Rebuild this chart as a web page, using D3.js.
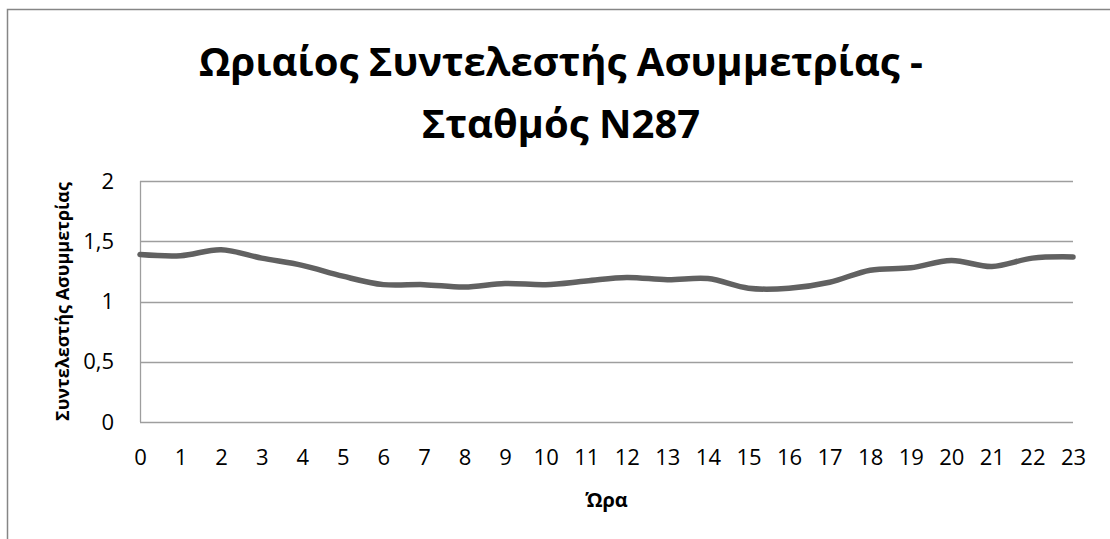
<!DOCTYPE html>
<html>
<head>
<meta charset="utf-8">
<script src="https://cdn.jsdelivr.net/npm/d3@7"></script>
<style>
  body { margin: 0; background: #fff; }
  svg text { font-family: "Open Sans", "Noto Sans", sans-serif; fill: #000; }
</style>
</head>
<body>
<div id="chart"></div>
<script>
// ώρες και τιμές συντελεστή ασυμμετρίας
var hours = d3.range(0, 24);
var skewValues = [1.39, 1.38, 1.43, 1.36, 1.30, 1.21, 1.14, 1.14, 1.12, 1.15, 1.14, 1.17,
                  1.20, 1.18, 1.19, 1.11, 1.11, 1.16, 1.26, 1.28, 1.34, 1.29, 1.36, 1.37];
var yTicks = [0, 0.5, 1, 1.5, 2];
var titleLines = ["Ωριαίος Συντελεστής Ασυμμετρίας -", "Σταθμός N287"];
var xTitle = "Ώρα";
var yTitle = "Συντελεστής Ασυμμετρίας";

var W = 1110, H = 539;
var margin = { top: 181, right: 37, bottom: 117, left: 140 },
    width = W - margin.left - margin.right,
    height = H - margin.top - margin.bottom;

var svg = d3.select("#chart").append("svg")
    .attr("width", W)
    .attr("height", H);

// chart border (only left and top visible)
svg.append("path")
    .attr("d", "M7.5," + H + "V9.5H" + W)
    .attr("fill", "none")
    .attr("stroke", "#868686")
    .attr("stroke-width", 1.5);

var g = svg.append("g")
    .attr("transform", "translate(" + margin.left + "," + margin.top + ")");

var x = d3.scalePoint()
    .domain(hours)
    .range([0, width]);
var y = d3.scaleLinear()
    .domain([0, 2])
    .range([height, 0]);

//----------gridlines----------
g.selectAll("line.grid").data(yTicks).enter().append("line")
    .attr("class", "grid")
    .attr("x1", 0).attr("x2", width)
    .attr("y1", function (d) { return Math.round(y(d)) + 0.5; })
    .attr("y2", function (d) { return Math.round(y(d)) + 0.5; })
    .attr("stroke", "#9e9e9e")
    .attr("stroke-width", 1.3);

g.append("line")
    .attr("x1", 0.5).attr("x2", 0.5)
    .attr("y1", 0).attr("y2", height)
    .attr("stroke", "#9e9e9e")
    .attr("stroke-width", 1.3);

//----------axes----------
var yAxis = d3.axisLeft(y)
    .tickValues(yTicks)
    .tickSize(0)
    .tickPadding(26)
    .tickFormat(function (d) { return String(d).replace(".", ","); });
g.append("g").attr("class", "y axis").call(yAxis)
    .call(function (s) { s.select(".domain").remove(); })
    .selectAll("text")
    .style("font-size", "22px");

var xAxis = d3.axisBottom(x)
    .tickSize(0)
    .tickPadding(27);
g.append("g").attr("class", "x axis")
    .attr("transform", "translate(0," + height + ")")
    .call(xAxis)
    .call(function (s) { s.select(".domain").remove(); })
    .selectAll("text")
    .style("font-size", "22px");

//----------line----------
var line = d3.line()
    .x(function (d, i) { return x(hours[i]); })
    .y(function (d) { return y(d); })
    .curve(d3.curveCatmullRom.alpha(0.5));

g.append("path")
    .datum(skewValues)
    .attr("d", line)
    .attr("fill", "none")
    .attr("stroke", "#616161")
    .attr("stroke-width", 5.5)
    .attr("stroke-linecap", "round");

//----------titles----------
svg.selectAll("text.title").data(titleLines).enter().append("text")
    .attr("class", "title")
    .attr("x", 561)
    .attr("y", function (d, i) { return 76 + i * 62; })
    .attr("text-anchor", "middle")
    .style("font-size", "40px")
    .style("font-weight", "bold")
    .text(function (d) { return d; });

svg.append("text")
    .attr("x", margin.left + width / 2)
    .attr("y", 507)
    .attr("text-anchor", "middle")
    .style("font-size", "20px")
    .style("font-weight", "bold")
    .text(xTitle);

svg.append("text")
    .attr("transform", "translate(69," + (margin.top + height / 2) + ") rotate(-90)")
    .attr("text-anchor", "middle")
    .style("font-size", "18px")
    .style("font-weight", "bold")
    .text(yTitle);
</script>
</body>
</html>
